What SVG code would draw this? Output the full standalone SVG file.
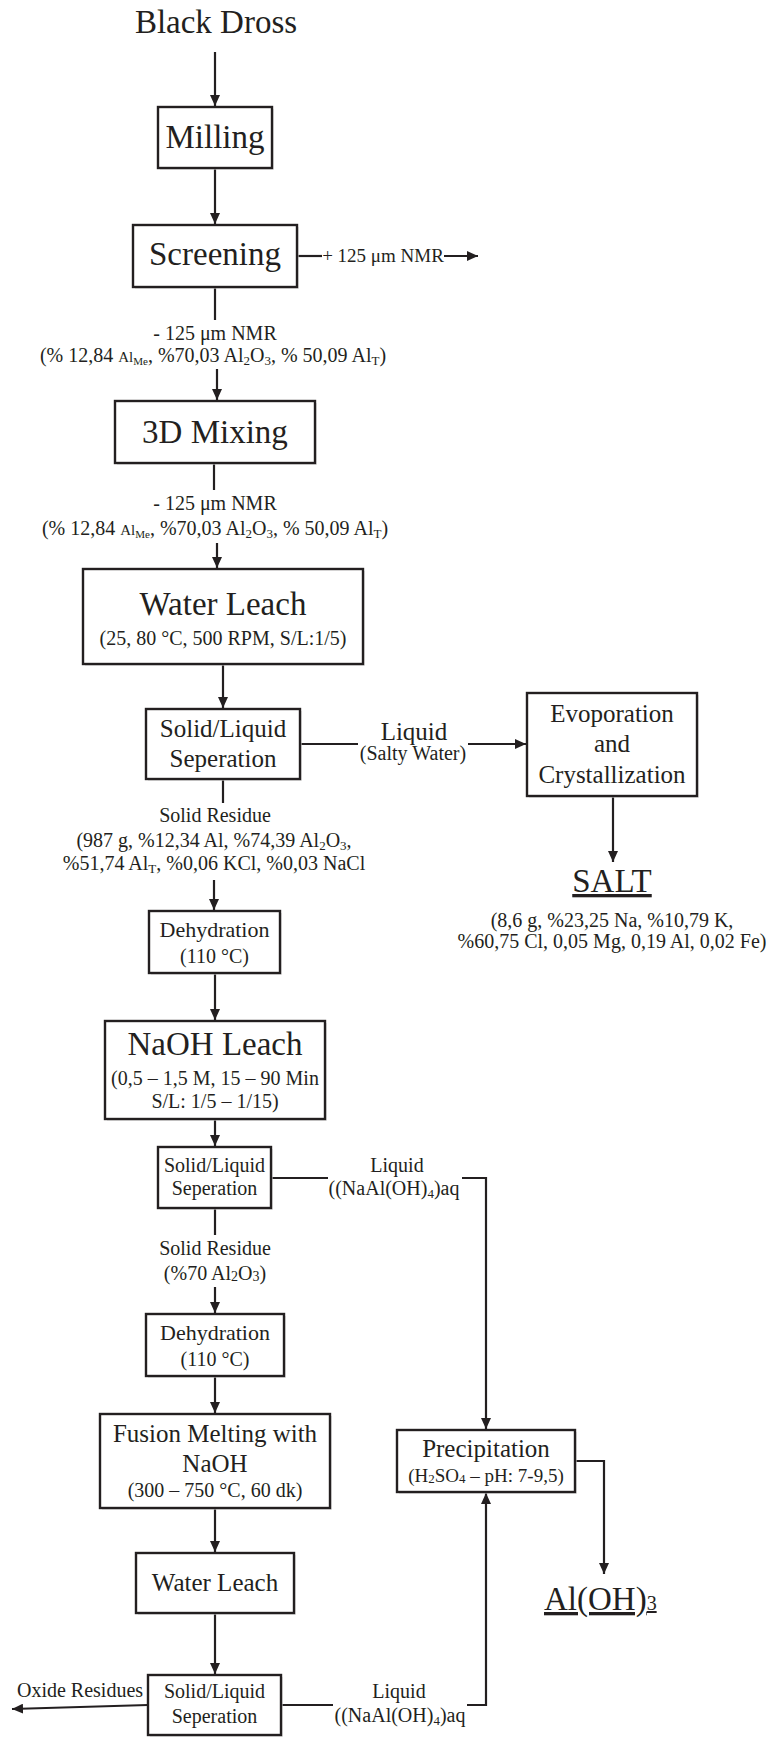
<svg xmlns="http://www.w3.org/2000/svg" width="772" height="1742" viewBox="0 0 772 1742">
  <style>
    text { fill: #231f20; text-anchor: middle; }
    .xl { font-size: 33px; }
    .md { font-size: 25px; }
    .dh { font-size: 22px; }
    .sm { font-size: 20px; }
    .xs { font-size: 19px; }
    .box { fill: #ffffff; stroke: #231f20; stroke-width: 2.4; }
    .shadow { fill: #d9d9d9; opacity: 0.6; }
    .conn { fill: none; stroke: #231f20; stroke-width: 2.2; }
    .arrow { marker-end: url(#ah); }
    .ul { text-decoration: underline; }
  </style>
  <defs>
    <marker id="ah" markerWidth="12" markerHeight="10" refX="11" refY="5" orient="auto" markerUnits="userSpaceOnUse">
      <path d="M0,0 L11,5 L0,10 z" fill="#231f20"/>
    </marker>
  </defs>
  <rect width="772" height="1742" fill="#ffffff"/>

  <g font-family="'Liberation Serif', 'DejaVu Serif', serif">
  <!-- connectors -->
  <g id="connectors">
    <line class="conn arrow" x1="215" y1="52" x2="215" y2="106"/>
    <line class="conn arrow" x1="215" y1="168" x2="215" y2="224"/>
    <line class="conn" x1="297" y1="256" x2="322" y2="256"/>
    <line class="conn arrow" x1="444" y1="256" x2="478" y2="256"/>
    <line class="conn" x1="215" y1="287" x2="215" y2="320"/>
    <line class="conn arrow" x1="217" y1="369" x2="217" y2="400"/>
    <line class="conn" x1="214" y1="463" x2="214" y2="490"/>
    <line class="conn arrow" x1="217" y1="543" x2="217" y2="568"/>
    <line class="conn arrow" x1="223" y1="664" x2="223" y2="708"/>
    <line class="conn" x1="300" y1="744" x2="358" y2="744"/>
    <line class="conn arrow" x1="468" y1="744" x2="526" y2="744"/>
    <line class="conn arrow" x1="613" y1="796" x2="613" y2="862"/>
    <line class="conn" x1="223" y1="779" x2="223" y2="803"/>
    <line class="conn arrow" x1="214" y1="880" x2="214" y2="910"/>
    <line class="conn arrow" x1="215" y1="973" x2="215" y2="1020"/>
    <line class="conn arrow" x1="215" y1="1119" x2="215" y2="1146"/>
    <line class="conn" x1="215" y1="1208" x2="215" y2="1235"/>
    <line class="conn arrow" x1="215" y1="1287" x2="215" y2="1313"/>
    <line class="conn arrow" x1="215" y1="1376" x2="215" y2="1413"/>
    <line class="conn arrow" x1="215" y1="1508" x2="215" y2="1552"/>
    <line class="conn arrow" x1="215" y1="1613" x2="215" y2="1674"/>
    <line class="conn arrow" x1="148" y1="1705" x2="12" y2="1709"/>
    <line class="conn" x1="271" y1="1178" x2="328" y2="1178"/>
    <polyline class="conn arrow" points="462,1178 486,1178 486,1429"/>
    <line class="conn" x1="281" y1="1705" x2="333" y2="1705"/>
    <polyline class="conn arrow" points="467,1705 486,1705 486,1493"/>
    <polyline class="conn arrow" points="575,1461 604,1461 604,1574"/>
  </g>

  <!-- connector labels -->
  <g id="labels">
    <text class="xs" x="383" y="262">+ 125 μm NMR</text>
    <text class="sm" x="215" y="340">- 125 μm NMR</text>
    <text class="sm" x="213" y="362">(% 12,84 <tspan font-size="15">Al</tspan><tspan font-size="11" dy="3">Me</tspan><tspan dy="-3">, %70,03 Al</tspan><tspan font-size="13" dy="3">2</tspan><tspan dy="-3">O</tspan><tspan font-size="13" dy="3">3</tspan><tspan dy="-3">, % 50,09 Al</tspan><tspan font-size="13" dy="3">T</tspan><tspan dy="-3">)</tspan></text>
    <text class="sm" x="215" y="510">- 125 μm NMR</text>
    <text class="sm" x="215" y="535">(% 12,84 <tspan font-size="15">Al</tspan><tspan font-size="11" dy="3">Me</tspan><tspan dy="-3">, %70,03 Al</tspan><tspan font-size="13" dy="3">2</tspan><tspan dy="-3">O</tspan><tspan font-size="13" dy="3">3</tspan><tspan dy="-3">, % 50,09 Al</tspan><tspan font-size="13" dy="3">T</tspan><tspan dy="-3">)</tspan></text>
    <text class="md" x="414" y="740">Liquid</text>
    <text class="sm" x="413" y="760">(Salty Water)</text>
    <text class="sm" x="215" y="822">Solid Residue</text>
    <text class="sm" x="214" y="847">(987 g, %12,34 Al, %74,39 Al<tspan font-size="13" dy="3">2</tspan><tspan dy="-3">O</tspan><tspan font-size="13" dy="3">3</tspan><tspan dy="-3">,</tspan></text>
    <text class="sm" x="214" y="870">%51,74 Al<tspan font-size="13" dy="3">T</tspan><tspan dy="-3">, %0,06 KCl, %0,03 NaCl</tspan></text>
    <text class="sm" x="397" y="1172">Liquid</text>
    <text class="sm" x="394" y="1195">((NaAl(OH)<tspan font-size="13" dy="3">4</tspan><tspan dy="-3">)aq</tspan></text>
    <text class="sm" x="215" y="1255">Solid Residue</text>
    <text class="sm" x="215" y="1280">(%70 Al<tspan font-size="14" dy="1">2</tspan><tspan dy="-1">O</tspan><tspan font-size="14" dy="1">3</tspan><tspan dy="-1">)</tspan></text>
    <text class="sm" x="80" y="1697">Oxide Residues</text>
    <text class="sm" x="399" y="1698">Liquid</text>
    <text class="sm" x="400" y="1722">((NaAl(OH)<tspan font-size="13" dy="3">4</tspan><tspan dy="-3">)aq</tspan></text>
  </g>

  <!-- start material -->
  <g id="black-dross">
    <text class="xl" x="216" y="33">Black Dross</text>
  </g>

  <g id="milling">
    <rect class="shadow" x="160" y="109" width="114" height="61"/>
    <rect class="box" x="158" y="107" width="114" height="61"/>
    <text class="xl" x="215" y="148">Milling</text>
  </g>

  <g id="screening">
    <rect class="shadow" x="135" y="227" width="164" height="62"/>
    <rect class="box" x="133" y="225" width="164" height="62"/>
    <text class="xl" x="215" y="265">Screening</text>
  </g>

  <g id="mixing">
    <rect class="shadow" x="117" y="403" width="200" height="62"/>
    <rect class="box" x="115" y="401" width="200" height="62"/>
    <text class="xl" x="215" y="443">3D Mixing</text>
  </g>

  <g id="water-leach">
    <rect class="shadow" x="85" y="571" width="280" height="95"/>
    <rect class="box" x="83" y="569" width="280" height="95"/>
    <text class="xl" x="223" y="615">Water Leach</text>
    <text class="sm" x="223" y="645">(25, 80 °C, 500 RPM, S/L:1/5)</text>
  </g>

  <g id="separation-1">
    <rect class="shadow" x="148" y="711" width="154" height="70"/>
    <rect class="box" x="146" y="709" width="154" height="70"/>
    <text class="md" x="223" y="737">Solid/Liquid</text>
    <text class="md" x="223" y="767">Seperation</text>
  </g>

  <g id="evaporation">
    <rect class="shadow" x="529" y="695" width="170" height="103"/>
    <rect class="box" x="527" y="693" width="170" height="103"/>
    <text class="md" x="612" y="722">Evoporation</text>
    <text class="md" x="612" y="752">and</text>
    <text class="md" x="612" y="783">Crystallization</text>
  </g>

  <g id="salt">
    <text class="xl ul" x="612" y="892">SALT</text>
    <text class="sm" x="612" y="927">(8,6 g, %23,25 Na, %10,79 K,</text>
    <text class="sm" x="612" y="948">%60,75 Cl, 0,05 Mg, 0,19 Al, 0,02 Fe)</text>
  </g>

  <g id="dehydration-1">
    <rect class="shadow" x="151" y="913" width="131" height="62"/>
    <rect class="box" x="149" y="911" width="131" height="62"/>
    <text class="dh" x="214.5" y="937">Dehydration</text>
    <text class="sm" x="214.5" y="963">(110 °C)</text>
  </g>

  <g id="naoh-leach">
    <rect class="shadow" x="107" y="1023" width="220" height="98"/>
    <rect class="box" x="105" y="1021" width="220" height="98"/>
    <text class="xl" x="215" y="1055">NaOH Leach</text>
    <text class="sm" x="215" y="1085">(0,5 – 1,5 M, 15 – 90 Min</text>
    <text class="sm" x="215" y="1108">S/L: 1/5 – 1/15)</text>
  </g>

  <g id="separation-2">
    <rect class="shadow" x="160" y="1149" width="113" height="61"/>
    <rect class="box" x="158" y="1147" width="113" height="61"/>
    <text class="sm" x="214.5" y="1172">Solid/Liquid</text>
    <text class="sm" x="214.5" y="1195">Seperation</text>
  </g>

  <g id="dehydration-2">
    <rect class="shadow" x="148" y="1316" width="138" height="62"/>
    <rect class="box" x="146" y="1314" width="138" height="62"/>
    <text class="dh" x="215" y="1340">Dehydration</text>
    <text class="sm" x="215" y="1366">(110 °C)</text>
  </g>

  <g id="fusion">
    <rect class="shadow" x="102" y="1416" width="230" height="94"/>
    <rect class="box" x="100" y="1414" width="230" height="94"/>
    <text class="md" x="215" y="1442">Fusion Melting with</text>
    <text class="md" x="215" y="1472">NaOH</text>
    <text class="sm" x="215" y="1497">(300 – 750 °C, 60 dk)</text>
  </g>

  <g id="water-leach-2">
    <rect class="shadow" x="138" y="1555" width="158" height="60"/>
    <rect class="box" x="136" y="1553" width="158" height="60"/>
    <text class="md" x="215" y="1591">Water Leach</text>
  </g>

  <g id="separation-3">
    <rect class="shadow" x="150" y="1677" width="133" height="60"/>
    <rect class="box" x="148" y="1675" width="133" height="60"/>
    <text class="sm" x="214.5" y="1698">Solid/Liquid</text>
    <text class="sm" x="214.5" y="1723">Seperation</text>
  </g>

  <g id="precipitation">
    <rect class="shadow" x="399" y="1432" width="178" height="62"/>
    <rect class="box" x="397" y="1430" width="178" height="62"/>
    <text class="md" x="486" y="1457">Precipitation</text>
    <text class="xs" x="486" y="1482">(H<tspan font-size="13" dy="1">2</tspan><tspan dy="-1">SO</tspan><tspan font-size="13" dy="1">4</tspan><tspan dy="-1"> – pH: 7-9,5)</tspan></text>
  </g>

  <g id="aluminium-hydroxide">
    <text class="xl ul" x="544" y="1610" style="text-anchor:start">Al(OH)<tspan font-size="20">3</tspan></text>
  </g>
  </g>
</svg>
